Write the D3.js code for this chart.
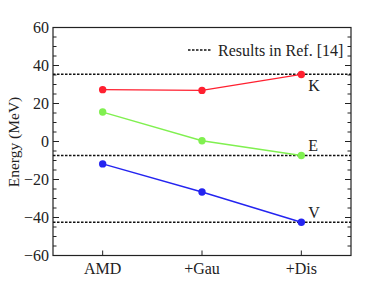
<!DOCTYPE html>
<html><head><meta charset="utf-8">
<script src="https://cdn.jsdelivr.net/npm/d3@7"></script>
<style>body{margin:0;background:#fff}svg{display:block}text{font-family:"Liberation Serif","Times New Roman",serif;fill:#222}</style>
</head><body><svg id="c" width="374" height="282"></svg>
<script>
const categories = ["AMD", "+Gau", "+Dis"];
const seriesNames = ["K", "E", "V"];
const kValues = [27.3, 26.9, 35.3];
const eValues = [15.5, 0.4, -7.4];
const vValues = [-11.8, -26.6, -42.5];
const refValues = [35.4, -7.4, -42.5];
const yTicks = [-60, -40, -20, 0, 20, 40, 60];
const legendLabel = "Results in Ref. [14]";
const yTitle = "Energy (MeV)";

const svg = d3.select("#c");
const m = {l: 53, r: 351, t: 27.5, b: 255.5};
const x = d3.scalePoint().domain(categories).range([m.l, m.r]).padding(0.5);
const y = d3.scaleLinear().domain([-60, 60]).range([m.b, m.t]);

const colors = {K: "#ff2030", E: "#80f050", V: "#2424f0"};
const series = [{name: "K", v: kValues}, {name: "E", v: eValues}, {name: "V", v: vValues}];

// frame
svg.append("rect").attr("x", m.l).attr("y", m.t).attr("width", m.r - m.l).attr("height", m.b - m.t)
  .attr("fill", "none").attr("stroke", "#222").attr("stroke-width", 1.2);

// y ticks
const minor = d3.range(-60, 61, 5);
minor.forEach(t => {
  const major = t % 20 === 0;
  const len = major ? 6 : 3.5;
  svg.append("line").attr("x1", m.l).attr("x2", m.l + len).attr("y1", y(t)).attr("y2", y(t)).attr("stroke", "#222").attr("stroke-width", 1);
  svg.append("line").attr("x1", m.r).attr("x2", m.r - len).attr("y1", y(t)).attr("y2", y(t)).attr("stroke", "#222").attr("stroke-width", 1);
});
yTicks.forEach(t => {
  svg.append("text").attr("x", 49).attr("y", y(t)).attr("dy", "0.35em").attr("text-anchor", "end")
    .attr("font-size", 16).text(t < 0 ? "\u2212" + Math.abs(t) : t);
});
// x ticks
categories.forEach(c => {
  svg.append("line").attr("x1", x(c)).attr("x2", x(c)).attr("y1", m.b).attr("y2", m.b - 5).attr("stroke", "#222");
  svg.append("text").attr("x", x(c)).attr("y", 274).attr("text-anchor", "middle").attr("font-size", 16).text(c);
});

// ref lines
refValues.forEach(r => {
  svg.append("line").attr("x1", m.l).attr("x2", m.r).attr("y1", y(r)).attr("y2", y(r))
    .attr("stroke", "#111").attr("stroke-width", 1.6).attr("stroke-dasharray", "2.5,1.5");
});

// series
const line = d3.line().x((d, i) => x(categories[i])).y(d => y(d));
series.forEach(s => {
  svg.append("path").attr("d", line(s.v)).attr("fill", "none").attr("stroke", colors[s.name]).attr("stroke-width", 1.4);
  svg.selectAll(null).data(s.v).enter().append("circle")
    .attr("cx", (d, i) => x(categories[i])).attr("cy", d => y(d)).attr("r", 3.7).attr("fill", colors[s.name]);
});

// labels
const lx = x(categories[2]) + 7;
const lastVals = {K: kValues[2], E: eValues[2], V: vValues[2]};
const offs = {K: 17, E: -5, V: -4};
seriesNames.forEach(n => {
  svg.append("text").attr("x", lx).attr("y", y(lastVals[n]) + offs[n]).attr("font-size", 16).text(n);
});

// legend
svg.append("line").attr("x1", 188).attr("x2", 212).attr("y1", 50).attr("y2", 50)
  .attr("stroke", "#111").attr("stroke-width", 1.6).attr("stroke-dasharray", "2.5,1.5");
svg.append("text").attr("x", 218).attr("y", 55.5).attr("font-size", 16).text(legendLabel);

// y title
svg.append("text").attr("transform", "translate(19,142) rotate(-90)").attr("text-anchor", "middle")
  .attr("font-size", 15.5).text(yTitle);
</script></body></html>
